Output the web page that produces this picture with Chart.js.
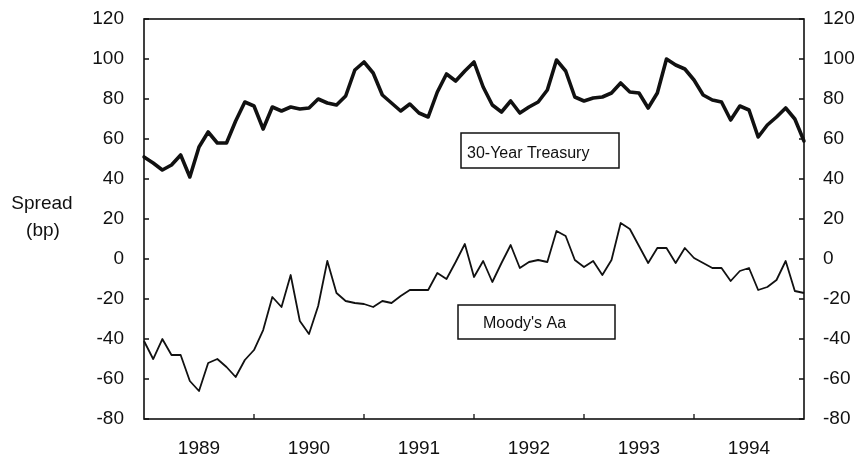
<!DOCTYPE html>
<html>
<head>
<meta charset="utf-8">
<script src="https://cdn.jsdelivr.net/npm/chart.js@4.4.1/dist/chart.umd.min.js"></script>
<style>
  html, body { margin: 0; padding: 0; background: #fff; }
  #wrap { width: 861px; height: 458px; position: relative; }
</style>
</head>
<body>
<div id="wrap"><canvas id="spreadChart"></canvas></div>
<script>
/* --------------- Data --------------------- */
var years = ["1989", "1990", "1991", "1992", "1993", "1994", "1995"];
var monthNames = ["Jan", "Feb", "Mar", "Apr", "May", "Jun", "Jul", "Aug", "Sep", "Oct", "Nov", "Dec"];

// monthly categories, Jan 1989 .. Jan 1995
var months = [];
for (let y = 0; y < years.length - 1; y++) {
  for (let m = 0; m < 12; m++) months.push(monthNames[m] + " " + years[y]);
}
months.push("Jan " + years[years.length - 1]);

var treasury = [
  51, 48, 44.5, 47, 52, 41, 56, 63.5, 58, 58, 69, 78.5,
  76.5, 65, 76, 74, 76, 75, 75.5, 80, 78, 77, 81.5, 94.5,
  98.5, 93, 82, 78, 74, 77.5, 73, 71, 83.5, 92.5, 89, 94,
  98.5, 86, 77, 73.5, 79, 73, 76, 78.5, 84.5, 99.5, 94, 81,
  79, 80.5, 81, 83, 88, 83.5, 83, 75.5, 83, 100, 97, 95,
  89.5, 82, 79.5, 78.5, 69.5, 76.5, 74.5, 61, 67, 71, 75.5, 70,
  59
];

var moodys = [
  -41, -50, -40, -48, -48, -61, -66, -52, -50, -54, -59, -50.5,
  -45.5, -35.5, -19, -24, -8, -31, -37.5, -23.5, -1, -17, -21, -22,
  -22.5, -24, -21, -22, -18.5, -15.5, -15.5, -15.5, -7, -10, -1.5, 7.5,
  -9, -1, -11.5, -2, 7, -4.5, -1.5, -0.5, -1.5, 14, 11.5, -0.5,
  -4, -1, -8, -0.5, 18, 15, 6.5, -2, 5.5, 5.5, -2, 5.5,
  0.5, -2, -4.5, -4.5, -11, -6, -4.5, -15.5, -14, -10.5, -1, -16,
  -17
];

var seriesNames = ["30-Year Treasury", "Moody's Aa"];
var yMin = -80, yMax = 120, yStep = 20;

var FONT = "'Liberation Sans', Arial, Helvetica, sans-serif";
var INK = "#111";

/* --------------- Frame, inward ticks, boxed labels --------------------- */
var framePlugin = {
  id: "frame",
  afterDraw: function (chart) {
    var ctx = chart.ctx;
    var a = chart.chartArea;
    var xs = chart.scales.x, ys = chart.scales.y;
    ctx.save();
    ctx.strokeStyle = INK;
    ctx.lineWidth = 1.6;
    ctx.strokeRect(a.left, a.top, a.right - a.left, a.bottom - a.top);

    // inward ticks
    ctx.lineWidth = 1.3;
    ctx.beginPath();
    for (let v = yMin; v <= yMax; v += yStep) {
      var py = ys.getPixelForValue(v);
      ctx.moveTo(a.left, py); ctx.lineTo(a.left + 5, py);
      ctx.moveTo(a.right, py); ctx.lineTo(a.right - 5, py);
    }
    for (let i = 12; i < months.length - 1; i += 12) {
      var px = xs.getPixelForValue(i);
      ctx.moveTo(px, a.bottom); ctx.lineTo(px, a.bottom - 5);
    }
    ctx.stroke();

    // boxed series labels
    ctx.lineWidth = 1.5;
    ctx.fillStyle = INK;
    ctx.font = "16px " + FONT;
    ctx.textBaseline = "alphabetic";
    ctx.textAlign = "left";
    ctx.strokeRect(461, 133, 158, 35);
    ctx.fillText(seriesNames[0], 467, 158);
    ctx.strokeRect(458, 305, 157, 34);
    ctx.fillText(seriesNames[1], 483, 328);

    // axis title
    ctx.font = "19px " + FONT;
    ctx.textAlign = "center";
    ctx.fillText("Spread", 42, 209);
    ctx.fillText("(bp)", 43, 236);
    ctx.restore();
  }
};

function fixVertical(width) {
  return function (s) {
    s.width = width;
    s.paddingTop = 0;
    s.paddingBottom = 0;
  };
}

/* --------------- Chart --------------------- */
var spreadChart = new Chart(document.getElementById("spreadChart"), {
  type: "line",
  plugins: [framePlugin],
  data: {
    labels: months,
    datasets: [
      {
        label: seriesNames[0],
        data: treasury,
        borderColor: INK,
        borderWidth: 3.6,
        borderJoinStyle: "round",
        borderCapStyle: "round",
        pointRadius: 0,
        tension: 0,
        yAxisID: "y"
      },
      {
        label: seriesNames[1],
        data: moodys,
        borderColor: INK,
        borderWidth: 1.8,
        borderJoinStyle: "round",
        pointRadius: 0,
        tension: 0,
        yAxisID: "y"
      }
    ]
  },
  options: {
    responsive: true,
    maintainAspectRatio: false,
    animation: false,
    layout: { padding: { top: 19, left: 0, right: 0, bottom: 0 } },
    plugins: {
      legend: { display: false },
      tooltip: { enabled: false }
    },
    scales: {
      x: {
        type: "category",
        offset: false,
        grid: { display: false, drawTicks: false, tickLength: 0 },
        border: { display: false },
        ticks: {
          autoSkip: false,
          maxRotation: 0,
          padding: 18,
          color: INK,
          font: { family: FONT, size: 19 },
          callback: function (value) {
            var lbl = this.getLabelForValue(value);
            return lbl.indexOf("Jul") === 0 ? lbl.slice(4) : "";
          }
        },
        afterFit: function (s) { s.height = 39; s.paddingLeft = 0; s.paddingRight = 0; }
      },
      y: {
        position: "left",
        min: yMin,
        max: yMax,
        grid: { display: false, drawTicks: false, tickLength: 0 },
        border: { display: false },
        ticks: {
          stepSize: yStep,
          padding: 20,
          color: INK,
          font: { family: FONT, size: 19 }
        },
        afterFit: fixVertical(144)
      },
      y2: {
        position: "right",
        min: yMin,
        max: yMax,
        grid: { display: false, drawTicks: false, tickLength: 0 },
        border: { display: false },
        ticks: {
          stepSize: yStep,
          padding: 19,
          color: INK,
          font: { family: FONT, size: 19 }
        },
        afterFit: fixVertical(57)
      }
    }
  }
});
</script>
</body>
</html>
